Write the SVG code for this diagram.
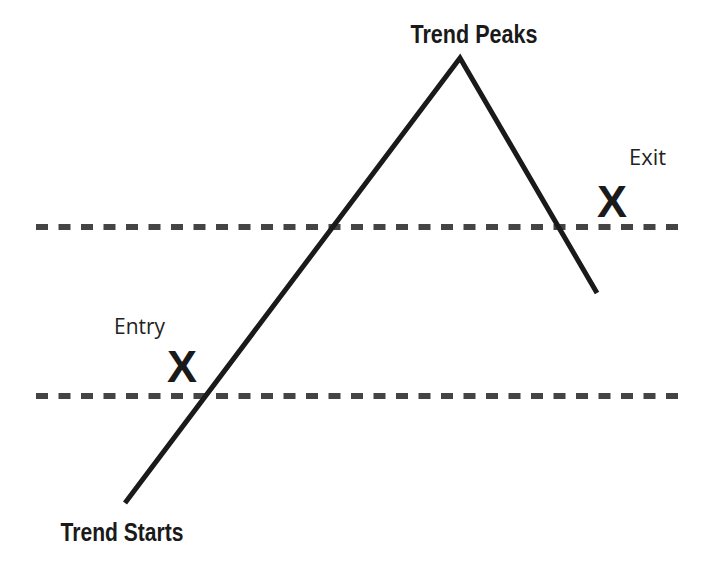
<svg xmlns="http://www.w3.org/2000/svg" width="716" height="561" viewBox="0 0 716 561">
<style>
.lbl{font-family:"Liberation Sans Narrow","Liberation Sans",Arial,sans-serif;font-weight:bold;font-size:25px;fill:#1a1a1a}
.sm{font-family:"Open Sans","Liberation Sans",sans-serif;font-size:22px;fill:#222}
.x{font-family:"Liberation Sans",Arial,sans-serif;font-weight:bold;font-size:45px;fill:#1a1a1a}
.dash{stroke:#444;stroke-width:6;stroke-dasharray:12 10.5;fill:none}
</style>
<rect width="716" height="561" fill="#fff"/>
<g id="connectors">
<line class="dash" x1="36" y1="227" x2="684" y2="227"/>
<line class="dash" x1="36" y1="396" x2="684" y2="396"/>
<polyline points="125,503 460,58 597,293" fill="none" stroke="#1a1a1a" stroke-width="5" stroke-miterlimit="10"/>
</g>
<g id="trend-peaks"><text class="lbl" x="474" y="43" text-anchor="middle" textLength="127" lengthAdjust="spacingAndGlyphs">Trend Peaks</text></g>
<g id="trend-starts"><text class="lbl" x="122" y="541" text-anchor="middle" textLength="123" lengthAdjust="spacingAndGlyphs">Trend Starts</text></g>
<g id="entry"><text class="sm" x="114" y="334" textLength="51" lengthAdjust="spacingAndGlyphs">Entry</text>
<text class="x" x="182" y="382" text-anchor="middle">X</text></g>
<g id="exit"><text class="sm" x="629" y="165" textLength="37" lengthAdjust="spacingAndGlyphs">Exit</text>
<text class="x" x="612" y="217" text-anchor="middle">X</text></g>
</svg>
